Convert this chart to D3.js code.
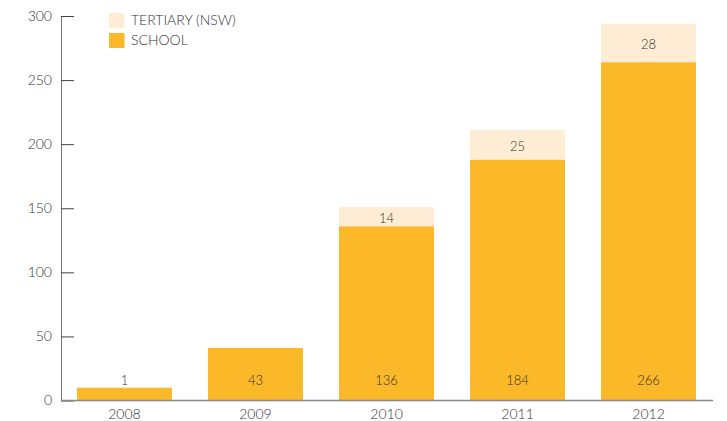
<!DOCTYPE html>
<html><head><meta charset="utf-8">
<script src="https://cdn.jsdelivr.net/npm/d3@7/dist/d3.min.js"></script>
<style>body{margin:0;background:#fff}svg{display:block}text{font-family:Lato,"Open Sans",sans-serif;font-weight:300;fill:#333}</style>
</head><body>
<svg id="c" width="727" height="421"></svg>
<script>
const years = ["2008","2009","2010","2011","2012"];
const schoolValues = [10, 41, 136, 188, 264];
const tertiaryValues = [0, 0, 15, 23, 30];
const schoolLabels = ["1","43","136","184","266"];
const tertiaryLabels = ["","","14","25","28"];
const yTicks = [0,50,100,150,200,250,300];
const seriesNames = ["TERTIARY (NSW)","SCHOOL"];
const colors = {school:"#FBB829", tertiary:"#FEEDD4"};

const svg = d3.select("#c");
const x = d3.scaleBand().domain(years).range([61, 712]).paddingInner(0.275).paddingOuter(0.122);
const y = d3.scaleLinear().domain([0,300]).range([400.5, 16]);

years.forEach((yr,i)=>{
  const s = schoolValues[i], t = tertiaryValues[i];
  svg.append("rect").attr("x", x(yr)).attr("width", x.bandwidth())
    .attr("y", y(s)).attr("height", y(0)-y(s)).attr("fill", colors.school);
  if (t>0) {
    svg.append("rect").attr("x", x(yr)).attr("width", x.bandwidth())
      .attr("y", y(s+t)).attr("height", y(s)-y(s+t)).attr("fill", colors.tertiary);
    svg.append("text").attr("x", x(yr)+x.bandwidth()/2).attr("y", (y(s)+y(s+t))/2+2)
      .attr("dy","0.35em").attr("text-anchor","middle").style("font-size","13px").text(tertiaryLabels[i]);
  }
  svg.append("text").attr("x", x(yr)+x.bandwidth()/2).attr("y", 380)
    .attr("dy","0.35em").attr("text-anchor","middle").style("font-size","13px").text(schoolLabels[i]);
});

const yAxis = svg.append("g").attr("transform","translate(61,0)")
  .call(d3.axisRight(y).tickValues(yTicks).tickSize(13).tickPadding(-22).tickFormat(d3.format("d")));
yAxis.select(".domain").attr("stroke","#777").attr("d","M0.5,16V401");
yAxis.selectAll(".tick line").attr("stroke","#444").attr("x1",0);
yAxis.selectAll(".tick text").attr("text-anchor","end").attr("x",-9).style("font-size","14px").style("font-family","Lato,sans-serif").style("font-weight","300").attr("fill","#333");

const xAxis = svg.append("g").attr("transform","translate(0,400.5)")
  .call(d3.axisBottom(x).tickSize(0).tickPadding(9));
xAxis.select(".domain").attr("stroke","#888").attr("stroke-width",1.5).attr("d","M61,0H713");
xAxis.selectAll(".tick text").style("font-size","14px").style("font-family","Lato,sans-serif").style("font-weight","300").attr("fill","#333");

const legCol = [colors.tertiary, colors.school];
seriesNames.forEach((n,i)=>{
  svg.append("rect").attr("x",109).attr("y",13+i*20).attr("width",15.5).attr("height",15).attr("fill",legCol[i]);
  svg.append("text").attr("x",131).attr("y",20.5+i*20).attr("dy","0.35em").style("font-size","14px").text(n);
});
</script>
</body></html>
